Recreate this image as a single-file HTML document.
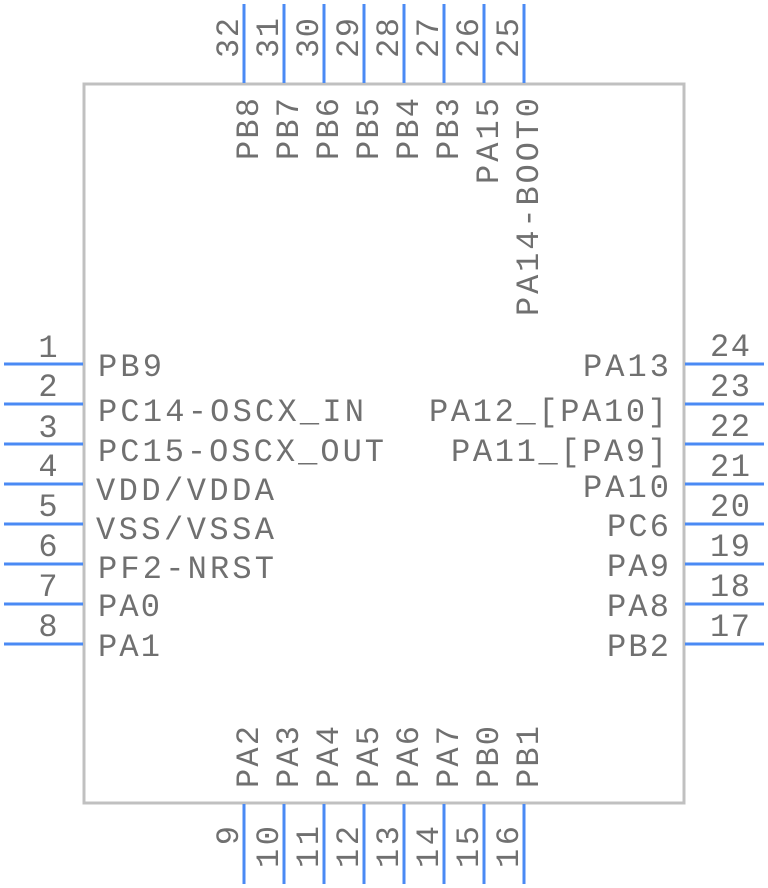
<!DOCTYPE html>
<html><head><meta charset="utf-8"><style>html,body{margin:0;padding:0;background:#fff}svg{display:block}</style></head>
<body>
<svg width="768" height="888" viewBox="0 0 768 888" xmlns="http://www.w3.org/2000/svg" font-family="Liberation Mono, monospace" font-size="32" fill="#707070">
<rect x="84" y="84" width="600" height="719" fill="none" stroke="#c0c0c0" stroke-width="3"/>
<g stroke="#4a8af4" stroke-width="3">
<line x1="4" y1="364" x2="83" y2="364"/><line x1="4" y1="404" x2="83" y2="404"/><line x1="4" y1="444" x2="83" y2="444"/><line x1="4" y1="484" x2="83" y2="484"/><line x1="4" y1="524" x2="83" y2="524"/><line x1="4" y1="564" x2="83" y2="564"/><line x1="4" y1="604" x2="83" y2="604"/><line x1="4" y1="644" x2="83" y2="644"/>
<line x1="685" y1="364" x2="764" y2="364"/><line x1="685" y1="404" x2="764" y2="404"/><line x1="685" y1="444" x2="764" y2="444"/><line x1="685" y1="484" x2="764" y2="484"/><line x1="685" y1="524" x2="764" y2="524"/><line x1="685" y1="564" x2="764" y2="564"/><line x1="685" y1="604" x2="764" y2="604"/><line x1="685" y1="644" x2="764" y2="644"/>
<line x1="244" y1="4" x2="244" y2="83"/><line x1="284" y1="4" x2="284" y2="83"/><line x1="324" y1="4" x2="324" y2="83"/><line x1="364" y1="4" x2="364" y2="83"/><line x1="404" y1="4" x2="404" y2="83"/><line x1="444" y1="4" x2="444" y2="83"/><line x1="484" y1="4" x2="484" y2="83"/><line x1="524" y1="4" x2="524" y2="83"/>
<line x1="244" y1="804" x2="244" y2="884"/><line x1="284" y1="804" x2="284" y2="884"/><line x1="324" y1="804" x2="324" y2="884"/><line x1="364" y1="804" x2="364" y2="884"/><line x1="404" y1="804" x2="404" y2="884"/><line x1="444" y1="804" x2="444" y2="884"/><line x1="484" y1="804" x2="484" y2="884"/><line x1="524" y1="804" x2="524" y2="884"/>
</g>
<!-- left names -->
<text x="98" y="376" textLength="64">PB9</text>
<text x="98" y="421" textLength="266">PC14-OSCX_IN</text>
<text x="98" y="461" textLength="286">PC15-OSCX_OUT</text>
<text x="96" y="500" textLength="178">VDD/VDDA</text>
<text x="96" y="539" textLength="178">VSS/VSSA</text>
<text x="98" y="578" textLength="176">PF2-NRST</text>
<text x="98" y="616" textLength="62">PA0</text>
<text x="98" y="656" textLength="62">PA1</text>
<!-- left numbers -->
<g text-anchor="middle">
<text x="48" y="357">1</text><text x="48" y="396">2</text><text x="48" y="437">3</text><text x="48" y="476">4</text><text x="48" y="516">5</text><text x="48" y="556">6</text><text x="48" y="596">7</text><text x="48" y="636">8</text>
</g>
<!-- right names -->
<g text-anchor="end">
<text x="669" y="376" textLength="86">PA13</text>
<text x="667" y="421" textLength="238">PA12_[PA10]</text>
<text x="667" y="461" textLength="216">PA11_[PA9]</text>
<text x="669" y="497" textLength="86">PA10</text>
<text x="669" y="536" textLength="62">PC6</text>
<text x="669" y="576" textLength="62">PA9</text>
<text x="669" y="616" textLength="62">PA8</text>
<text x="669" y="656" textLength="62">PB2</text>
</g>
<g>
<text x="710" y="356" textLength="40">24</text><text x="710" y="396" textLength="40">23</text><text x="710" y="436" textLength="40">22</text><text x="710" y="476" textLength="40">21</text><text x="710" y="516" textLength="40">20</text><text x="710" y="556" textLength="40">19</text><text x="710" y="596" textLength="40">18</text><text x="710" y="636" textLength="40">17</text>
</g>
<!-- top numbers -->
<g text-anchor="start">
<text transform="translate(238,58) rotate(-90)" textLength="40">32</text>
<text transform="translate(278,58) rotate(-90)" textLength="40">31</text>
<text transform="translate(318,58) rotate(-90)" textLength="40">30</text>
<text transform="translate(358,58) rotate(-90)" textLength="40">29</text>
<text transform="translate(398,58) rotate(-90)" textLength="40">28</text>
<text transform="translate(438,58) rotate(-90)" textLength="40">27</text>
<text transform="translate(478,58) rotate(-90)" textLength="40">26</text>
<text transform="translate(518,58) rotate(-90)" textLength="40">25</text>
</g>
<!-- top names -->
<g text-anchor="end">
<text transform="translate(258,98) rotate(-90)" textLength="62">PB8</text>
<text transform="translate(298,98) rotate(-90)" textLength="62">PB7</text>
<text transform="translate(338,98) rotate(-90)" textLength="62">PB6</text>
<text transform="translate(378,98) rotate(-90)" textLength="62">PB5</text>
<text transform="translate(418,98) rotate(-90)" textLength="62">PB4</text>
<text transform="translate(458,98) rotate(-90)" textLength="62">PB3</text>
<text transform="translate(498,98) rotate(-90)" textLength="86">PA15</text>
<text transform="translate(538,98) rotate(-90)" textLength="218">PA14-BOOT0</text>
</g>
<!-- bottom names -->
<g text-anchor="start">
<text transform="translate(258,788) rotate(-90)" textLength="62">PA2</text>
<text transform="translate(298,788) rotate(-90)" textLength="62">PA3</text>
<text transform="translate(338,788) rotate(-90)" textLength="62">PA4</text>
<text transform="translate(378,788) rotate(-90)" textLength="62">PA5</text>
<text transform="translate(418,788) rotate(-90)" textLength="62">PA6</text>
<text transform="translate(458,788) rotate(-90)" textLength="62">PA7</text>
<text transform="translate(498,788) rotate(-90)" textLength="62">PB0</text>
<text transform="translate(538,788) rotate(-90)" textLength="62">PB1</text>
</g>
<!-- bottom numbers -->
<g text-anchor="end">
<text transform="translate(238,826) rotate(-90)">9</text>
<text transform="translate(278,826) rotate(-90)" textLength="42">10</text>
<text transform="translate(318,826) rotate(-90)" textLength="42">11</text>
<text transform="translate(358,826) rotate(-90)" textLength="42">12</text>
<text transform="translate(398,826) rotate(-90)" textLength="42">13</text>
<text transform="translate(438,826) rotate(-90)" textLength="42">14</text>
<text transform="translate(478,826) rotate(-90)" textLength="42">15</text>
<text transform="translate(518,826) rotate(-90)" textLength="42">16</text>
</g>
</svg>
</body></html>
